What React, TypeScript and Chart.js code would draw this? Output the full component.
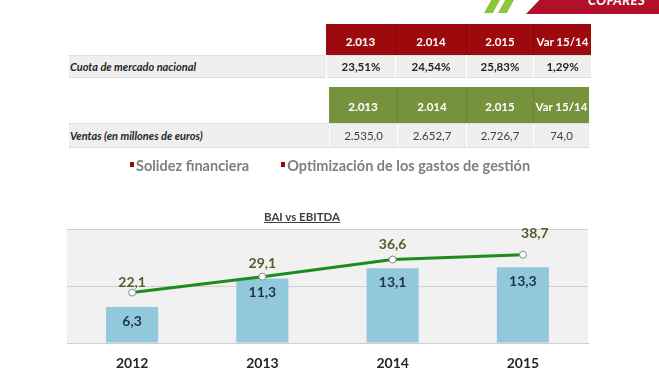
import React, { useEffect, useRef } from "react";
import { Chart, registerables } from "chart.js";

Chart.register(...registerables);

const years = ["2012", "2013", "2014", "2015"];
const bai = [6.3, 11.3, 13.1, 13.3];
const ebitda = [22.1, 29.1, 36.6, 38.7];

const tableHeaders = ["2.013", "2.014", "2.015", "Var 15/14"];
const cuotaValues = ["23,51%", "24,54%", "25,83%", "1,29%"];
const ventasValues = ["2.535,0", "2.652,7", "2.726,7", "74,0"];
const bullets = ["Solidez financiera", "Optimización de los gastos de gestión"];

// label placement (style only): offsets of the EBITDA labels from their points
const lineLabelDx = [0, 0, 0, 12];
const lineLabelDy = [-10, -13, -15, -21];

const FONT = "Lato, 'Open Sans', sans-serif";
const fmt = (v: number) => v.toFixed(1).replace(".", ",");

const bgPlugin = {
  id: "plotBg",
  beforeDraw(chart: any) {
    const { ctx, chartArea } = chart;
    ctx.save();
    ctx.fillStyle = "#f1f1f1";
    ctx.fillRect(chartArea.left, chartArea.top, chartArea.right - chartArea.left, chartArea.bottom - chartArea.top);
    ctx.restore();
  },
};

const labelPlugin = {
  id: "valueLabels",
  afterDatasetsDraw(chart: any) {
    const { ctx } = chart;
    ctx.save();
    ctx.textAlign = "center";
    ctx.textBaseline = "middle";
    chart.data.datasets.forEach((ds: any, i: number) => {
      const meta = chart.getDatasetMeta(i);
      meta.data.forEach((el: any, j: number) => {
        const v = ds.data[j];
        if (ds.type === "bar") {
          ctx.font = `bold 14px ${FONT}`;
          ctx.fillStyle = "#1d3447";
          ctx.fillText(fmt(v), el.x, el.y + 14);
        } else {
          ctx.font = `bold 14px ${FONT}`;
          ctx.fillStyle = "#565a2c";
          ctx.fillText(fmt(v), el.x + lineLabelDx[j], el.y + lineLabelDy[j]);
        }
      });
    });
    ctx.restore();
  },
};

function ChartCanvas() {
  const ref = useRef<HTMLCanvasElement>(null);
  useEffect(() => {
    if (!ref.current) return;
    const chart = new Chart(ref.current, {
      type: "bar",
      data: {
        labels: years,
        datasets: [
          {
            type: "line",
            label: "EBITDA",
            data: ebitda,
            yAxisID: "y1",
            borderColor: "#1c8c1c",
            borderWidth: 3,
            pointRadius: 3.5,
            pointBackgroundColor: "#ffffff",
            pointBorderColor: "#8a8a8a",
            pointBorderWidth: 1,
            tension: 0,
            order: 0,
          } as any,
          {
            type: "bar",
            label: "BAI",
            data: bai,
            yAxisID: "y",
            backgroundColor: "#92c8db",
            barPercentage: 0.4,
            categoryPercentage: 1,
            order: 1,
          } as any,
        ],
      },
      options: {
        responsive: false,
        animation: false,
        layout: { padding: { left: 67, right: 71, top: 229, bottom: 0 } },
        plugins: { legend: { display: false }, tooltip: { enabled: false }, title: { display: false } },
        scales: {
          x: {
            grid: { display: false, drawTicks: false },
            border: { display: true, color: "#cfcfcf", width: 1 },
            ticks: { padding: 12, color: "#262626", font: { family: FONT, size: 14, weight: "bold" } },
            afterFit: (s: any) => {
              s.height = 28;
            },
          },
          y: {
            position: "left",
            min: 0,
            max: 20,
            ticks: { display: false, stepSize: 10 },
            grid: { color: "#cfcfcf", drawTicks: false, lineWidth: 1 },
            border: { display: false },
            afterFit: (s: any) => {
              s.width = 0;
            },
          },
          y1: { display: false, min: 0, max: 50 },
        },
      } as any,
      plugins: [bgPlugin, labelPlugin],
    });
    return () => chart.destroy();
  }, []);
  return (
    <canvas
      ref={ref}
      width={659}
      height={371}
      style={{ position: "absolute", left: 0, top: 0, width: 659, height: 371 }}
    />
  );
}

function DataTable(props: {
  left: number;
  top: number;
  headerH: number;
  rowH: number;
  colW: number[];
  color: string;
  divider: string;
  label: string;
  values: string[];
  valueBold: boolean;
}) {
  const { left, top, headerH, rowH, colW, color, divider, label, values, valueBold } = props;
  const labelLeft = 69;
  const totalW = colW.reduce((a, b) => a + b, 0);
  let x = left;
  const headerCells = tableHeaders.map((h, i) => {
    const c = (
      <div
        key={"h" + i}
        style={{
          position: "absolute",
          left: x,
          top,
          width: colW[i],
          height: headerH,
          background: color,
          borderLeft: i > 0 ? `1px solid ${divider}` : "none",
          boxSizing: "border-box",
          color: "#fff",
          fontWeight: 700,
          fontSize: 11.5,
          display: "flex",
          alignItems: "center",
          justifyContent: "center",
          paddingTop: 3,
        }}
      >
        {h}
      </div>
    );
    x += colW[i];
    return c;
  });
  x = left;
  const valueCells = values.map((v, i) => {
    const c = (
      <div
        key={"v" + i}
        style={{
          position: "absolute",
          left: x,
          top: top + headerH,
          width: colW[i],
          height: rowH,
          borderLeft: "1px solid #ffffff",
          boxSizing: "border-box",
          color: valueBold ? "#262626" : "#404040",
          fontWeight: valueBold ? 700 : 400,
          fontSize: 11.5,
          display: "flex",
          alignItems: "center",
          justifyContent: "center",
        }}
      >
        {v}
      </div>
    );
    x += colW[i];
    return c;
  });
  return (
    <>
      <div
        style={{
          position: "absolute",
          left: labelLeft,
          top: top + headerH,
          width: left + totalW - labelLeft,
          height: rowH,
          background: "#efefef",
          borderTop: "1px dotted #d0d0d0",
          borderBottom: "1px dotted #d0d0d0",
          boxSizing: "border-box",
        }}
      />
      <div
        style={{
          position: "absolute",
          left: labelLeft + 1,
          top: top + headerH,
          height: rowH,
          display: "flex",
          alignItems: "center",
          fontStyle: "italic",
          fontWeight: 700,
          fontSize: 11,
          color: "#262626",
        }}
      >
        {label}
      </div>
      {headerCells}
      {valueCells}
    </>
  );
}

export default function App() {
  return (
    <div
      style={{
        position: "fixed",
        left: 0,
        top: 0,
        width: 659,
        height: 371,
        background: "#ffffff",
        overflow: "hidden",
        fontFamily: FONT,
      }}
    >
      {/* logo */}
      <div style={{ position: "absolute", left: 484, top: 0, width: 16, height: 13, background: "#8cc63f", clipPath: "polygon(45% 0, 100% 0, 55% 100%, 0 100%)" }} />
      <div style={{ position: "absolute", left: 498, top: 0, width: 16, height: 13, background: "#8cc63f", clipPath: "polygon(45% 0, 100% 0, 55% 100%, 0 100%)" }} />
      <div style={{ position: "absolute", left: 526, top: 0, width: 133, height: 14, background: "#b0102a", clipPath: "polygon(10% 0, 100% 0, 100% 100%, 0 100%)" }} />
      <div style={{ position: "absolute", left: 588, top: -8, color: "#ffffff", fontStyle: "italic", fontWeight: 700, fontSize: 13, letterSpacing: 0.5 }}>COFARES</div>

      <ChartCanvas />

      <DataTable
        left={326}
        top={24}
        headerH={31}
        rowH={23}
        colW={[69, 71, 67, 58]}
        color="#9c0a0e"
        divider="#860609"
        label="Cuota de mercado nacional"
        values={cuotaValues}
        valueBold={true}
      />
      <DataTable
        left={329}
        top={87}
        headerH={36}
        rowH={25}
        colW={[68, 69, 67, 56]}
        color="#76923c"
        divider="#6a8534"
        label="Ventas (en millones de euros)"
        values={ventasValues}
        valueBold={false}
      />

      <div
        style={{
          position: "absolute",
          left: 130,
          top: 157,
          display: "flex",
          gap: 32,
          fontSize: 14.5,
          fontWeight: 700,
          color: "#7f7f7f",
          whiteSpace: "nowrap",
        }}
      >
        {bullets.map((b, i) => (
          <span key={i} style={{ display: "flex", alignItems: "center" }}>
            <span style={{ display: "inline-block", width: 4, height: 5, background: "#9c0a0e", marginRight: 2, marginTop: -2 }} />
            {b}
          </span>
        ))}
      </div>

      <div
        style={{
          position: "absolute",
          left: 302,
          top: 210,
          transform: "translateX(-50%)",
          fontSize: 11.5,
          fontWeight: 700,
          color: "#404040",
          textDecoration: "underline",
          whiteSpace: "nowrap",
        }}
      >
        BAI vs EBITDA
      </div>
    </div>
  );
}
